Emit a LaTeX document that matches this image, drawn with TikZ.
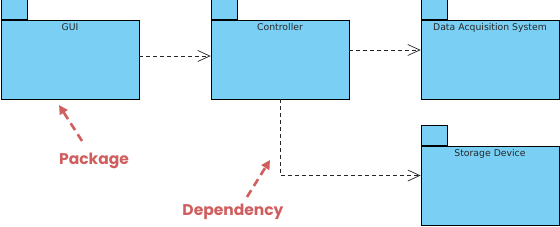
\documentclass[tikz,border=0pt]{standalone}
\usepackage{fontspec}
\setmainfont{DejaVu Sans}
\newfontfamily\notefont{Poppins}
\usetikzlibrary{arrows.meta}
\definecolor{pkgfill}{RGB}{122,207,245}
\definecolor{pkgtext}{RGB}{40,40,40}
\definecolor{notered}{RGB}{209,94,94}
\begin{document}
\begin{tikzpicture}[x=1pt,y=-1pt,
  pkgbody/.style={draw=black,fill=pkgfill,line width=0.8pt,minimum width=138pt,minimum height=79pt,inner sep=0pt},
  pkgtab/.style={draw=black,fill=pkgfill,line width=0.8pt,minimum width=26pt,minimum height=20pt,inner sep=0pt,anchor=south west},
  pkglabel/.style={font=\fontsize{9.3}{10}\selectfont,text=pkgtext,anchor=north,inner sep=0pt,yshift=-3.5pt},
  depline/.style={draw=black!85,line width=0.6pt,dash pattern=on 4pt off 3pt,-{Straight Barb[length=12pt,width=11pt,line width=0.7pt]}},
  notetext/.style={font=\notefont\bfseries\fontsize{15.5}{17}\selectfont,text=notered,inner sep=0pt},
  notearrow/.style={draw=notered,line width=2.6pt,dash pattern=on 8pt off 5pt,-{Triangle[length=9pt,width=9pt]}}
]
\useasboundingbox (0,0) rectangle (560,226);
% packages
\node[pkgbody] (gui) at (70,59.5) {};
\node[pkgtab] (guitab) at (gui.north west) {};
\node[pkglabel] (guilbl) at (gui.north) {GUI};
\node[pkgbody] (ctrl) at (280,59.5) {};
\node[pkgtab] (ctrltab) at (ctrl.north west) {};
\node[pkglabel] (ctrllbl) at (ctrl.north) {Controller};
\node[pkgbody] (das) at (490,59.5) {};
\node[pkgtab] (dastab) at (das.north west) {};
\node[pkglabel] (daslbl) at (das.north) {Data Acquisition System};
\node[pkgbody] (store) at (490,185.5) {};
\node[pkgtab] (storetab) at (store.north west) {};
\node[pkglabel] (storelbl) at (store.north) {Storage Device};
% dependencies
\draw[depline] ([yshift=3.5pt]gui.east) -- ([yshift=3.5pt]ctrl.west);
\draw[depline] ([yshift=9.5pt]ctrl.east) -- ([yshift=9.5pt]das.west);
\draw[depline] (ctrl.south) |- ([yshift=10pt]store.west);
% notes
\node[notetext] (pkgnote) at (94,161) {Package};
\node[notetext] (depnote) at (233,212) {Dependency};
\coordinate (pkgfrom) at (82,141);
\coordinate (pkgto) at (59,105);
\coordinate (depfrom) at (247,197);
\coordinate (depto) at (270,160);
\draw[notearrow] (pkgfrom) -- (pkgto);
\draw[notearrow] (depfrom) -- (depto);
\end{tikzpicture}
\end{document}
